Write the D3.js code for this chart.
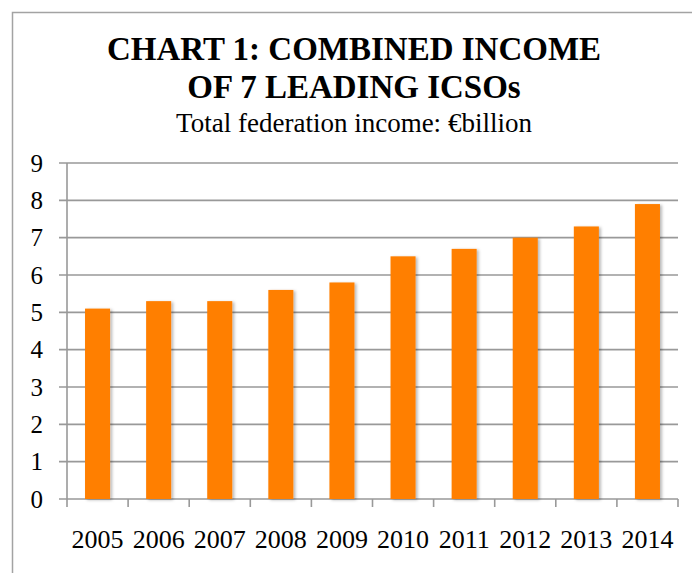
<!DOCTYPE html>
<html>
<head>
<meta charset="utf-8">
<script src="https://cdn.jsdelivr.net/npm/d3@7"></script>
<style>
  html, body { margin: 0; padding: 0; background: #fff; }
  svg { display: block; }
</style>
</head>
<body>
<svg id="chart" width="692" height="573"></svg>
<script>
// Combined income of the seven leading ICSOs, € billion
const years = ["2005", "2006", "2007", "2008", "2009", "2010", "2011", "2012", "2013", "2014"];
const income = [5.1, 5.3, 5.3, 5.6, 5.8, 6.5, 6.7, 7.0, 7.3, 7.9];
const yTicks = [0, 1, 2, 3, 4, 5, 6, 7, 8, 9];
const titleLines = ["CHART 1: COMBINED INCOME", "OF 7 LEADING ICSOs"];
const subtitleParts = ["Total federation income: ", "\u20AC", "billion"];

const SERIF = "'Liberation Serif', 'Times New Roman', Times, serif";
const svg = d3.select("#chart").attr("font-family", SERIF);
const W = 692, H = 573;
const plot = { left: 67, right: 678, top: 163, bottom: 499 };

// outer frame (runs off the right and bottom edges)
svg.append("rect")
  .attr("x", 12.5).attr("y", 12.5)
  .attr("width", W + 20).attr("height", H + 20)
  .attr("fill", "none").attr("stroke", "#a3a3a3").attr("stroke-width", 1.5);

// drop shadow for the bars
const defs = svg.append("defs");
const f = defs.append("filter").attr("id", "barShadow")
  .attr("x", "-30%").attr("y", "-10%").attr("width", "160%").attr("height", "120%");
f.append("feDropShadow").attr("dx", 2).attr("dy", 1).attr("stdDeviation", 1.6)
  .attr("flood-color", "#000").attr("flood-opacity", 0.28);

const x = d3.scaleBand().domain(years)
  .range([plot.left, plot.right])
  .paddingInner(0.59).paddingOuter(0.295);
const y = d3.scaleLinear().domain([0, 9]).range([plot.bottom, plot.top]);

// horizontal gridlines with ticks extending left of the axis
svg.append("g").selectAll("line").data(yTicks).join("line")
  .attr("x1", plot.left - 8).attr("x2", plot.right)
  .attr("y1", d => y(d)).attr("y2", d => y(d))
  .attr("stroke", "#999").attr("stroke-width", 1.6);

// vertical axis line
svg.append("line")
  .attr("x1", plot.left).attr("x2", plot.left)
  .attr("y1", y(9)).attr("y2", y(0))
  .attr("stroke", "#999").attr("stroke-width", 1.6);

// category boundary ticks below the baseline
const step = x.step();
const bounds = years.map(d => x(d) + x.bandwidth() / 2 - step / 2);
bounds.push(x(years[years.length - 1]) + x.bandwidth() / 2 + step / 2);
svg.append("g").selectAll("line").data(bounds).join("line")
  .attr("x1", d => d).attr("x2", d => d)
  .attr("y1", y(0)).attr("y2", y(0) + 8)
  .attr("stroke", "#999").attr("stroke-width", 1.6);

// bars
svg.append("g").selectAll("rect").data(years).join("rect")
  .attr("x", d => x(d))
  .attr("width", x.bandwidth())
  .attr("y", (d, i) => y(income[i]))
  .attr("height", (d, i) => y(0) - y(income[i]))
  .attr("fill", "#ff7f00")
  .attr("filter", "url(#barShadow)");

// y-axis labels
svg.append("g").selectAll("text").data(yTicks).join("text")
  .attr("font-family", SERIF)
  .attr("x", 43).attr("y", d => y(d)).attr("dy", "0.34em")
  .attr("text-anchor", "end").attr("font-size", 25)
  .text(d => d);

// x-axis labels
svg.append("g").selectAll("text").data(years).join("text")
  .attr("font-family", SERIF)
  .attr("x", d => x(d) + x.bandwidth() / 2).attr("y", 548)
  .attr("text-anchor", "middle").attr("font-size", 26)
  .text(d => d);

// title and subtitle
svg.append("g").selectAll("text").data(titleLines).join("text")
  .attr("font-family", SERIF)
  .attr("x", 354).attr("y", (d, i) => 60 + i * 38)
  .attr("text-anchor", "middle").attr("font-size", 33).attr("font-weight", "bold")
  .text(d => d);
svg.append("text")
  .attr("font-family", SERIF)
  .attr("x", 354).attr("y", 132)
  .attr("text-anchor", "middle").attr("font-size", 27)
  .selectAll("tspan").data(subtitleParts).join("tspan")
  .attr("font-family", SERIF)
  .text(d => d);
</script>
</body>
</html>
